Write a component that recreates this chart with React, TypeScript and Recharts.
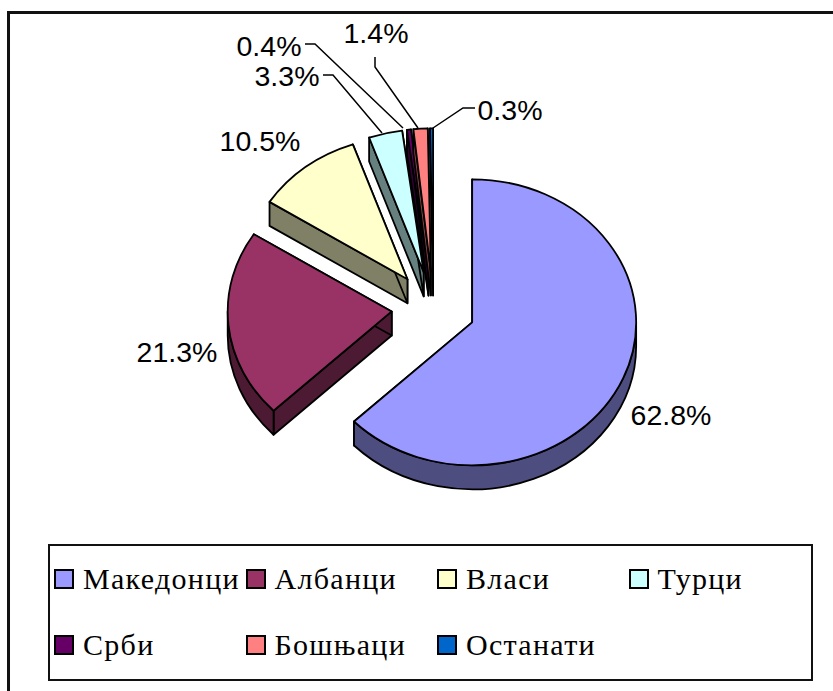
// App.tsx
// Exploded 3D-looking pie, Excel style, drawn with a custom Recharts sector shape
import { PieChart, Pie, Cell, Legend } from "recharts";

// ─── Data ─────────────────────────────────────────────────
const groupNames = ["Македонци", "Албанци", "Власи", "Турци", "Срби", "Бошњаци", "Останати"];
const groupShares = [62.8, 21.3, 10.5, 3.3, 0.4, 1.4, 0.3];
const groupColors = ["#9999FF", "#993366", "#FFFFCC", "#CCFFFF", "#660066", "#FF8080", "#0066CC"];

const pieData = groupNames.map((name, i) => ({ name, value: groupShares[i] }));

// ─── Layout ───────────────────────────────────────────────
const CX = 433.5;
const CY = 308;
const RX = 164;
const SQUASH = 0.872;
const EXPLODE = 42;
const DEPTH = 24;

// label text centre and leader line, same order as the data
const labelLayout = [
  { x: 671, y: 415, line: "" },
  { x: 177, y: 352, line: "" },
  { x: 260, y: 141, line: "" },
  { x: 287, y: 76, line: "323,75 333,75 382,133" },
  { x: 269, y: 46, line: "305,44 315,44 403,128" },
  { x: 376, y: 33, line: "375,57 375,67 418,128" },
  { x: 510, y: 110, line: "475,108 463,108 433,128" },
];

const RAD = Math.PI / 180;

function darken(hex: string) {
  const n = parseInt(hex.slice(1), 16);
  const half = (v: number) => Math.round(v / 2).toString(16).padStart(2, "0");
  return "#" + half((n >> 16) & 255) + half((n >> 8) & 255) + half(n & 255);
}

// ─── Sector with side walls ───────────────────────────────
function Sector3D(props: any) {
  const { cx, cy, outerRadius, startAngle, endAngle, fill } = props;
  const ry = outerRadius * SQUASH;
  const mid = (startAngle + endAngle) / 2;
  const vx = cx + EXPLODE * Math.cos(mid * RAD);
  const vy = cy - EXPLODE * SQUASH * Math.sin(mid * RAD);
  const pt = (a: number) => [vx + outerRadius * Math.cos(a * RAD), vy - ry * Math.sin(a * RAD)];

  const [sx, sy] = pt(startAngle);
  const [ex, ey] = pt(endAngle);
  const sweep = Math.abs(endAngle - startAngle);
  const cw = endAngle < startAngle ? 1 : 0;
  const top = `M${vx},${vy} L${sx},${sy} A${outerRadius},${ry} 0 ${sweep > 180 ? 1 : 0} ${cw} ${ex},${ey} Z`;

  // only the lower half of the rim can be seen
  const hi = Math.min(Math.max(startAngle, endAngle), 0);
  const lo = Math.max(Math.min(startAngle, endAngle), -180);
  let rim = "";
  if (hi > lo) {
    const [ax, ay] = pt(hi);
    const [bx, by] = pt(lo);
    rim = `M${ax},${ay} A${outerRadius},${ry} 0 0 1 ${bx},${by} L${bx},${by + DEPTH} A${outerRadius},${ry} 0 0 0 ${ax},${ay + DEPTH} Z`;
  }
  const wall = (x: number, y: number) =>
    `M${vx},${vy} L${x},${y} L${x},${y + DEPTH} L${vx},${vy + DEPTH} Z`;

  const side = darken(fill);
  return (
    <g stroke="#000" strokeWidth={1.8} strokeLinejoin="round">
      <path d={wall(sx, sy)} fill={side} />
      <path d={wall(ex, ey)} fill={side} />
      {rim && <path d={rim} fill={side} />}
      <path d={top} fill={fill} />
    </g>
  );
}

function renderPercentLabel(props: any) {
  const { index, percent } = props;
  const pos = labelLayout[index];
  return (
    <g key={index}>
      {pos.line && <polyline points={pos.line} fill="none" stroke="#000" strokeWidth={1.5} />}
      <text
        x={pos.x}
        y={pos.y}
        textAnchor="middle"
        dominantBaseline="central"
        fontFamily="'Liberation Sans', sans-serif"
        fontSize={28.5}
        fill="#000"
      >
        {(percent * 100).toFixed(1)}%
      </text>
    </g>
  );
}

function LegendBox({ payload }: any) {
  return (
    <div
      style={{
        boxSizing: "border-box",
        width: 765,
        height: 137,
        border: "2px solid #111",
        background: "#fff",
        display: "grid",
        gridTemplateColumns: "repeat(4, 191.5px)",
        gridAutoRows: 66,
        padding: "0 0 2px 4px",
        alignContent: "center",
      }}
    >
      {(payload ?? []).map((item: any) => (
        <div key={item.value} style={{ display: "flex", alignItems: "center", whiteSpace: "nowrap" }}>
          <span
            style={{
              boxSizing: "border-box",
              width: 20,
              height: 20,
              border: "2px solid #000",
              background: item.color,
              marginRight: 9,
              flexShrink: 0,
            }}
          />
          <span
            style={{
              fontFamily: "'Liberation Serif', serif",
              fontSize: 30,
              letterSpacing: 1.3,
              color: "#000",
            }}
          >
            {item.value}
          </span>
        </div>
      ))}
    </div>
  );
}

export default function App() {
  return (
    <div style={{ position: "absolute", left: 0, top: 0, width: 833, height: 691, background: "#fff", overflow: "hidden" }}>
      {/* outer frame, only left and top edges are in the picture */}
      <div
        style={{
          position: "absolute",
          left: 7,
          top: 11,
          right: 0,
          bottom: 0,
          borderLeft: "3px solid #111",
          borderTop: "3px solid #111",
        }}
      />
      <div style={{ position: "absolute", left: 0, top: 0 }}>
        <PieChart width={833} height={691} margin={{ top: 0, right: 0, bottom: 0, left: 0 }}>
          <Pie
            data={pieData}
            dataKey="value"
            nameKey="name"
            cx={CX}
            cy={CY}
            innerRadius={0}
            outerRadius={RX}
            startAngle={90}
            endAngle={-270}
            shape={Sector3D}
            label={renderPercentLabel}
            labelLine={false}
            isAnimationActive={false}
          >
            {pieData.map((entry, i) => (
              <Cell key={entry.name} fill={groupColors[i]} />
            ))}
          </Pie>
          <Legend
            content={<LegendBox />}
            itemSorter={null}
            wrapperStyle={{ position: "absolute", left: 48, top: 544, width: 765, height: 137, bottom: "auto" }}
          />
        </PieChart>
      </div>
    </div>
  );
}
